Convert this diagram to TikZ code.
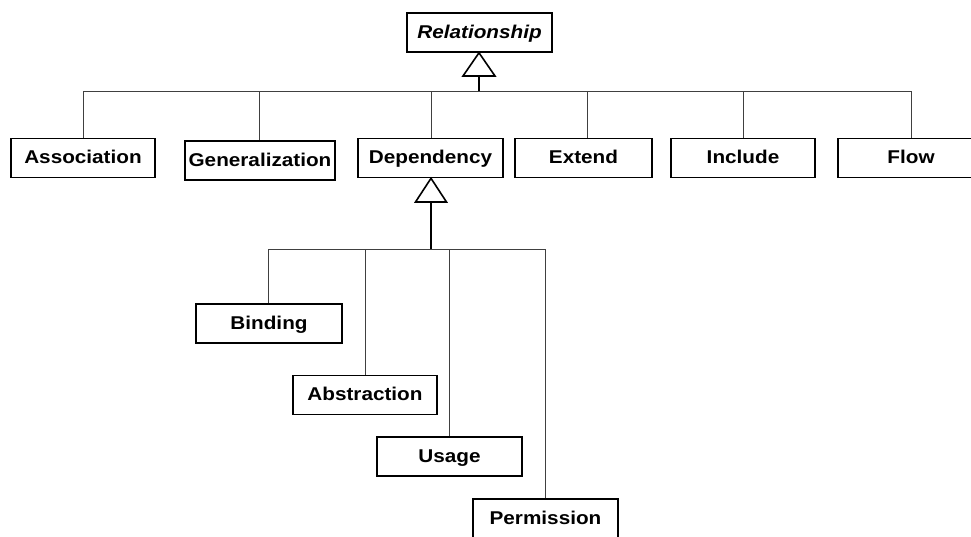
\documentclass[tikz,border=0pt]{standalone}
\usepackage{fontspec}
\setmainfont{Liberation Sans}[FakeStretch=1.12]
\begin{document}
\begin{tikzpicture}[x=1pt,y=-1pt,
  cls/.style={draw, line width=1.6pt, minimum height=39pt, inner sep=0pt,
    text height=15pt, text depth=4pt,
    font=\fontsize{18.5}{20}\selectfont\bfseries},
  link/.style={draw=black!75, line width=0.8pt},
  stem/.style={draw, line width=1.8pt},
  gen/.style={draw, line width=1.6pt, fill=white, line join=miter}]
\useasboundingbox (0,0) rectangle (971,536);
\begin{scope}
\clip (0,0) rectangle (971,536);
% root class
\node[cls, minimum width=145pt] (rel) at (479.5,32.5) {\itshape Relationship};
% kinds of relationship
\node[cls, minimum width=144pt] (assoc) at (83,158) {Association};
\node[cls, minimum width=150pt] (gener) at (260,160.5) {Generalization};
\node[cls, minimum width=145pt] (dep) at (430.5,158) {Dependency};
\node[cls, minimum width=137pt] (ext) at (583.5,158) {Extend};
\node[cls, minimum width=144pt] (inc) at (743,158) {Include};
\node[cls, minimum width=146pt] (flow) at (911,158) {Flow};
% kinds of dependency
\node[cls, minimum width=146pt] (bind) at (269,323.5) {Binding};
\node[cls, minimum width=144pt] (abstr) at (365,395) {Abstraction};
\node[cls, minimum width=145pt] (usage) at (449.5,456.5) {Usage};
\node[cls, minimum width=145pt] (perm) at (545.5,518.5) {Permission};

% generalization from the top row to Relationship
\coordinate (t1) at (479,76);
\coordinate (b1) at (479,91);
\coordinate (bl) at (83,91);
\coordinate (br) at (911,91);
\draw[link] (bl) -- (br);
\draw[link] (bl) -- (bl |- assoc.north);
\draw[link] (259,91) -- (259,91 |- gener.north);
\draw[link] (431,91) -- (431,91 |- dep.north);
\draw[link] (587,91) -- (587,91 |- ext.north);
\draw[link] (743,91) -- (743,91 |- inc.north);
\draw[link] (br) -- (br |- flow.north);
\draw[stem] (b1) -- (t1);
\draw[gen] (rel.south -| t1) -- (463,76) -- (495,76) -- cycle;

% generalization from the dependency kinds to Dependency
\coordinate (t2) at (431,202);
\coordinate (b2) at (431,249);
\coordinate (dl) at (268,249);
\coordinate (dr) at (545,249);
\draw[link] (dl) -- (dr);
\draw[link] (dl) -- (dl |- bind.north);
\draw[link] (365,249) -- (365,249 |- abstr.north);
\draw[link] (449,249) -- (449,249 |- usage.north);
\draw[link] (dr) -- (dr |- perm.north);
\draw[stem] (b2) -- (t2);
\draw[gen] (dep.south -| t2) -- (415.5,202) -- (446.5,202) -- cycle;
\end{scope}
\end{tikzpicture}
\end{document}
